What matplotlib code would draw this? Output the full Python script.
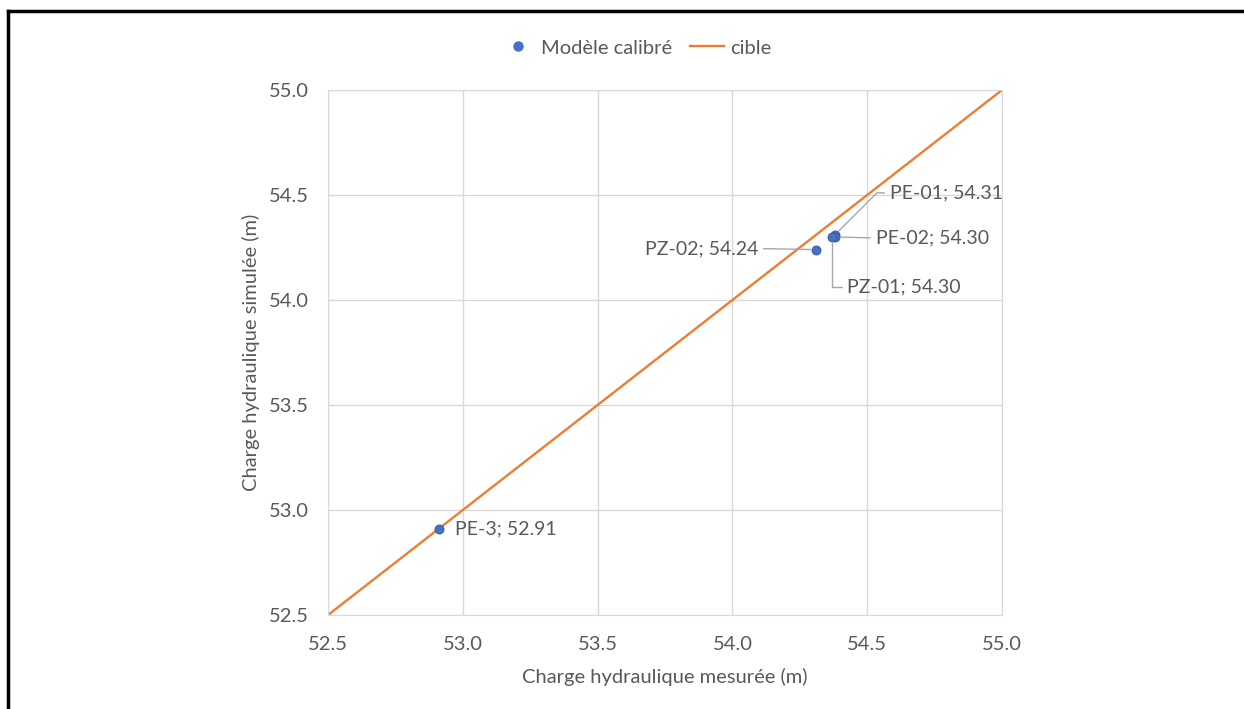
import matplotlib.pyplot as plt
from matplotlib.lines import Line2D

plt.rcParams['font.family'] = ['Lato', 'DejaVu Sans']

# piezometres: nom, charge mesuree, charge simulee
noms = ['PE-3', 'PZ-02', 'PE-01', 'PE-02', 'PZ-01']
mesuree = [52.91, 54.31, 54.38, 54.38, 54.37]
simulee = [52.91, 54.24, 54.31, 54.30, 54.30]

cible_x = [52.5, 55.0]
cible_y = [52.5, 55.0]

ticks = [52.5, 53.0, 53.5, 54.0, 54.5, 55.0]

bleu = '#4472C4'
orange = '#ED7D31'
gris = '#595959'

fig = plt.figure(figsize=(12.44, 7.09), dpi=100)
ax = fig.add_axes([0.2637, 0.1326, 0.5418, 0.7405])

ax.plot(cible_x, cible_y, color=orange, lw=1.7, zorder=2, label='cible')
ax.plot(mesuree, simulee, 'o', color=bleu, ms=6.5, mec='#2F5597', mew=0.6,
        zorder=3, label='Modèle calibré')

ax.set_xlim(52.5, 55.0)
ax.set_ylim(52.5, 55.0)
ax.set_xticks(ticks)
ax.set_yticks(ticks)
ax.set_xticklabels(['%.1f' % t for t in ticks])
ax.set_yticklabels(['%.1f' % t for t in ticks])
ax.grid(color='#D9D9D9', lw=1)
ax.set_axisbelow(True)
for s in ax.spines.values():
    s.set_color('#D9D9D9')
ax.tick_params(length=0, labelsize=14.5, colors=gris)
ax.tick_params(axis='x', pad=15)
ax.tick_params(axis='y', pad=14)

ax.set_xlabel('Charge hydraulique mesurée (m)', fontsize=14.5, color=gris, labelpad=11)
ax.set_ylabel('Charge hydraulique simulée (m)', fontsize=14.5, color=gris, labelpad=6)

# etiquettes de donnees (decalages en pixels)
style = dict(textcoords='offset pixels', fontsize=14, color=gris, va='center')
lien = dict(arrowstyle='-', color='#A6A6A6', lw=1, shrinkA=2, shrinkB=4)

ax.annotate('%s; %.2f' % (noms[0], simulee[0]), (mesuree[0], simulee[0]),
            xytext=(16, 0), ha='left', **style)
ax.annotate('%s; %.2f' % (noms[1], simulee[1]), (mesuree[1], simulee[1]),
            xytext=(-58, 1), ha='right',
            arrowprops=dict(relpos=(1, 0.5), **lien), **style)
ax.annotate('%s; %.2f' % (noms[2], simulee[2]), (mesuree[2], simulee[2]),
            xytext=(55, 42), ha='left',
            arrowprops=dict(relpos=(0, 0.5),
                            connectionstyle='angle,angleA=0,angleB=45,rad=0', **lien),
            **style)
ax.annotate('%s; %.2f' % (noms[3], simulee[3]), (mesuree[3], simulee[3]),
            xytext=(41, -1), ha='left',
            arrowprops=dict(relpos=(0, 0.5), **lien), **style)
ax.annotate('%s; %.2f' % (noms[4], simulee[4]), (mesuree[4], simulee[4]),
            xytext=(15, -50), ha='left',
            arrowprops=dict(relpos=(0, 0.5),
                            connectionstyle='angle,angleA=0,angleB=90,rad=0', **lien),
            **style)

poignees = [Line2D([], [], marker='o', ls='', color=bleu, ms=6.5),
            Line2D([], [], color=orange, lw=1.7)]
fig.legend(poignees, ['Modèle calibré', 'cible'], loc='center',
           bbox_to_anchor=(636 / 1244, 1 - 48 / 709), ncol=2, frameon=False,
           fontsize=14.5, labelcolor=gris, handlelength=1.7, columnspacing=0.9,
           handletextpad=0.3)

# cadre noir (haut et gauche seulement)
fig.add_artist(Line2D([8 / 1244, 8 / 1244], [0, 1 - 11 / 709], color='black', lw=2.5))
fig.add_artist(Line2D([8 / 1244, 1], [1 - 11 / 709, 1 - 11 / 709], color='black', lw=2.5))

fig.savefig('out.png', dpi=100)
